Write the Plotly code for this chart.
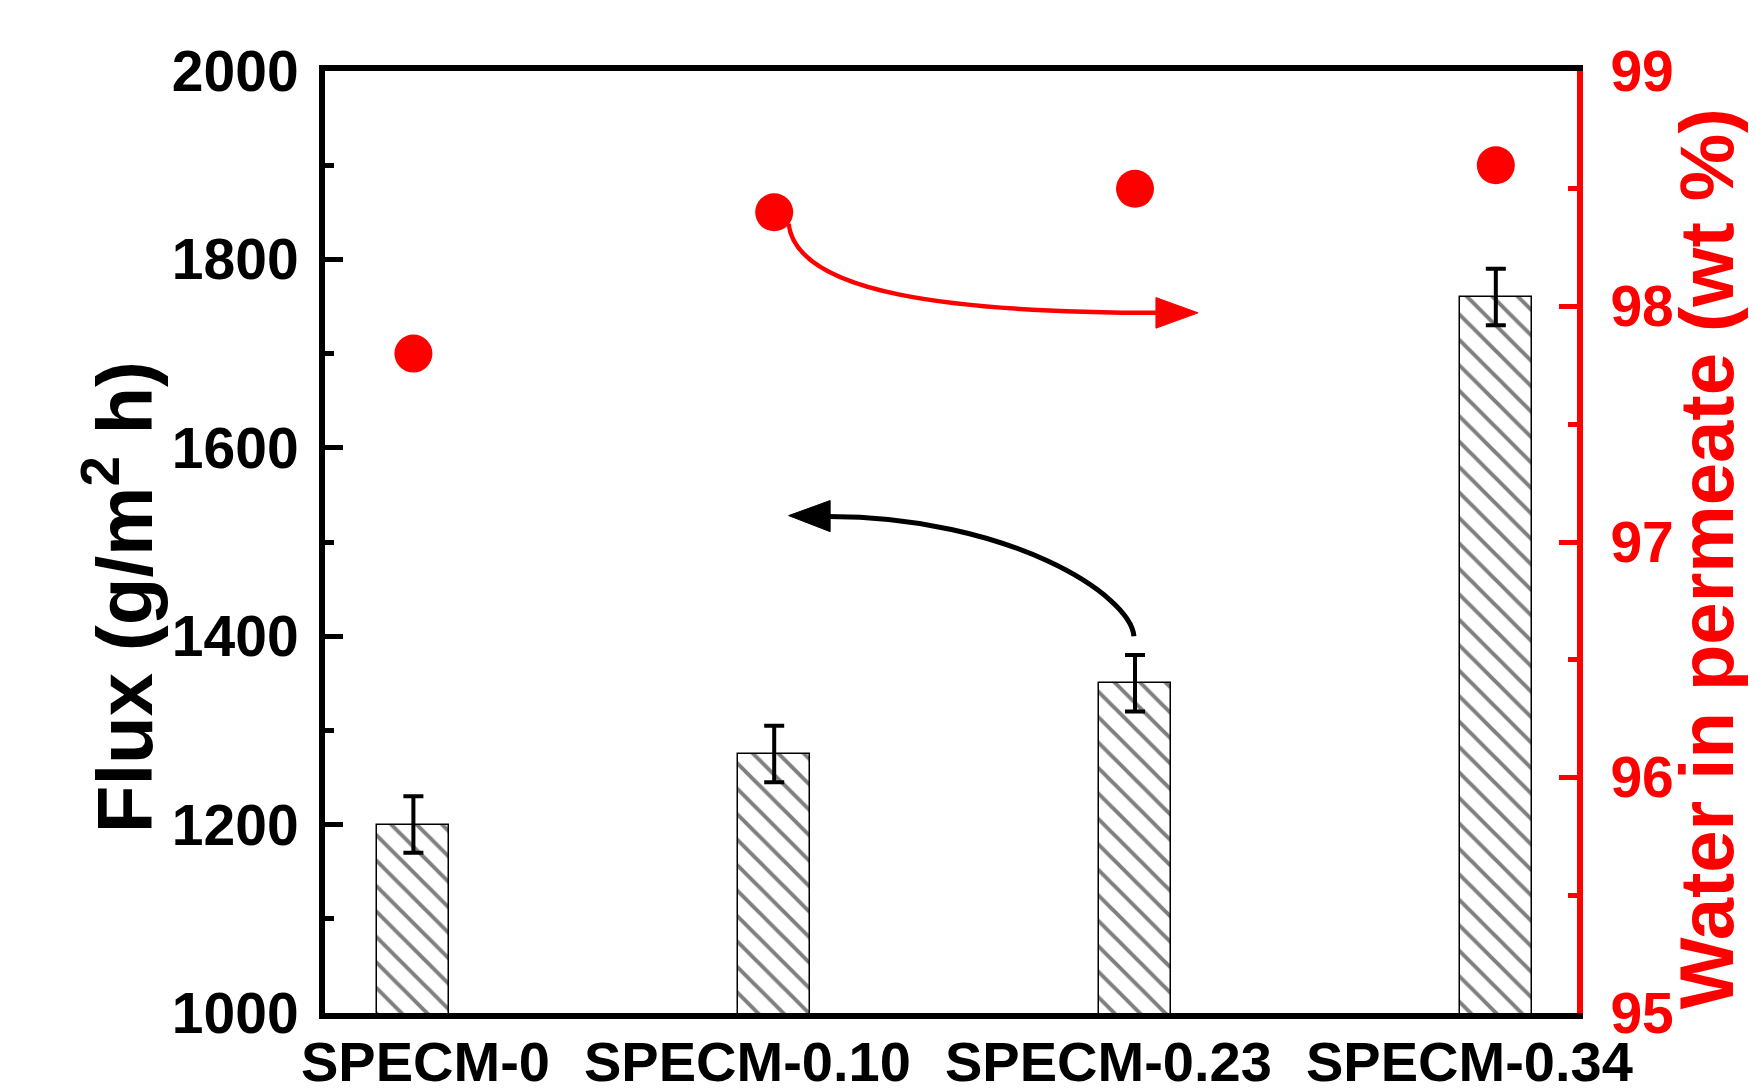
import plotly.graph_objects as go

# ---------------- data ----------------
categories = ["SPECM-0", "SPECM-0.10", "SPECM-0.23", "SPECM-0.34"]
flux = [1200, 1275, 1350, 1760]
flux_err = [30, 30, 30, 30]
water_wt = [97.8, 98.4, 98.5, 98.6]
flux_ticks = [1000, 1200, 1400, 1600, 1800, 2000]
water_ticks = [95, 96, 97, 98, 99]

FONT = "Liberation Sans, Arial, sans-serif"
RED = "#ff0000"
xpos = list(range(len(categories)))

fig = go.Figure()

fig.add_trace(go.Bar(
    x=xpos, y=flux, width=0.2,
    marker=dict(color="white",
                line=dict(color="black", width=1.5),
                pattern=dict(shape="\\", fgcolor="black", bgcolor="white",
                             size=18, solidity=0.22)),
    error_y=dict(type="data", array=flux_err, visible=True,
                 color="black", thickness=4, width=10),
    showlegend=False,
))

fig.add_trace(go.Scatter(
    x=xpos, y=water_wt, yaxis="y2", mode="markers",
    marker=dict(color=RED, size=38, line=dict(width=0)),
    showlegend=False,
))

# ---------------- curved arrows (decoration) ----------------
shapes = [
    # red arrow: from the SPECM-0.10 dot towards the right axis
    dict(type="path", xref="x", yref="y2",
         path="M 1.040,98.351 C 1.062,98.053 1.494,97.973 2.075,97.973",
         line=dict(color=RED, width=4.5), fillcolor="rgba(0,0,0,0)"),
    dict(type="path", xref="x", yref="y2",
         path="M 2.058,97.908 L 2.175,97.973 L 2.058,98.038 Z",
         line=dict(color=RED, width=1), fillcolor=RED),
    # black arrow: from above SPECM-0.23 bar towards the left axis
    dict(type="path", xref="x", yref="y",
         path="M 1.997,1400 C 1.988,1444 1.648,1527 1.150,1527",
         line=dict(color="black", width=5), fillcolor="rgba(0,0,0,0)"),
    dict(type="path", xref="x", yref="y",
         path="M 1.155,1511 L 1.040,1528 L 1.155,1544 Z",
         line=dict(color="black", width=1), fillcolor="black"),
]

annotations = [
    dict(text="Flux (g/m<sup>2</sup> h)", xref="paper", yref="paper",
         x=-0.164, y=0.441, xanchor="center", yanchor="middle",
         textangle=-90, showarrow=False,
         font=dict(family=FONT, size=78, color="black", weight="bold")),
    dict(text="Water in permeate (wt %)", xref="paper", yref="paper",
         x=1.104, y=0.482, xanchor="center", yanchor="middle",
         textangle=-90, showarrow=False,
         font=dict(family=FONT, size=76, color=RED, weight="bold")),
]
# category labels under the bars (right-aligned as in the original figure)
for xi, label in zip(xpos, categories):
    annotations.append(dict(
        text=label, xref="x", yref="paper", x=xi, y=0,
        xanchor="right", yanchor="top", xshift=138, yshift=-16,
        borderpad=0, showarrow=False,
        font=dict(family=FONT, size=56, color="black", weight="bold")))

fig.update_layout(
    width=1756, height=1089,
    margin=dict(l=317, r=187, t=63, b=84, autoexpand=False),
    paper_bgcolor="white", plot_bgcolor="white",
    bargap=0,
    shapes=shapes,
    annotations=annotations,
    xaxis=dict(
        range=[-0.245, 3.225], tickvals=xpos, showticklabels=False,
        showline=True, linecolor="black", linewidth=6, mirror=True,
        ticks="", showgrid=False, zeroline=False, automargin=False,
    ),
    yaxis=dict(
        range=[1000, 2000], tickvals=flux_ticks,
        showline=True, linecolor="black", linewidth=6, mirror=False,
        ticks="inside", ticklen=18, tickwidth=5, tickcolor="black",
        minor=dict(ticks="inside", ticklen=9, tickwidth=5, dtick=100,
                   tickcolor="black", showgrid=False),
        showgrid=False, zeroline=False, automargin=False,
        tickfont=dict(family=FONT, size=57, color="black", weight="bold"),
        ticklabelstandoff=9,
    ),
    yaxis2=dict(
        range=[95, 99], tickvals=water_ticks, overlaying="y", side="right",
        showline=True, linecolor=RED, linewidth=6,
        ticks="inside", ticklen=18, tickwidth=5, tickcolor=RED,
        minor=dict(ticks="inside", ticklen=9, tickwidth=5, dtick=0.5,
                   tickcolor=RED, showgrid=False),
        showgrid=False, zeroline=False, automargin=False,
        tickfont=dict(family=FONT, size=57, color=RED, weight="bold"),
        ticklabelstandoff=16,
    ),
)

fig.write_html("out.html")
